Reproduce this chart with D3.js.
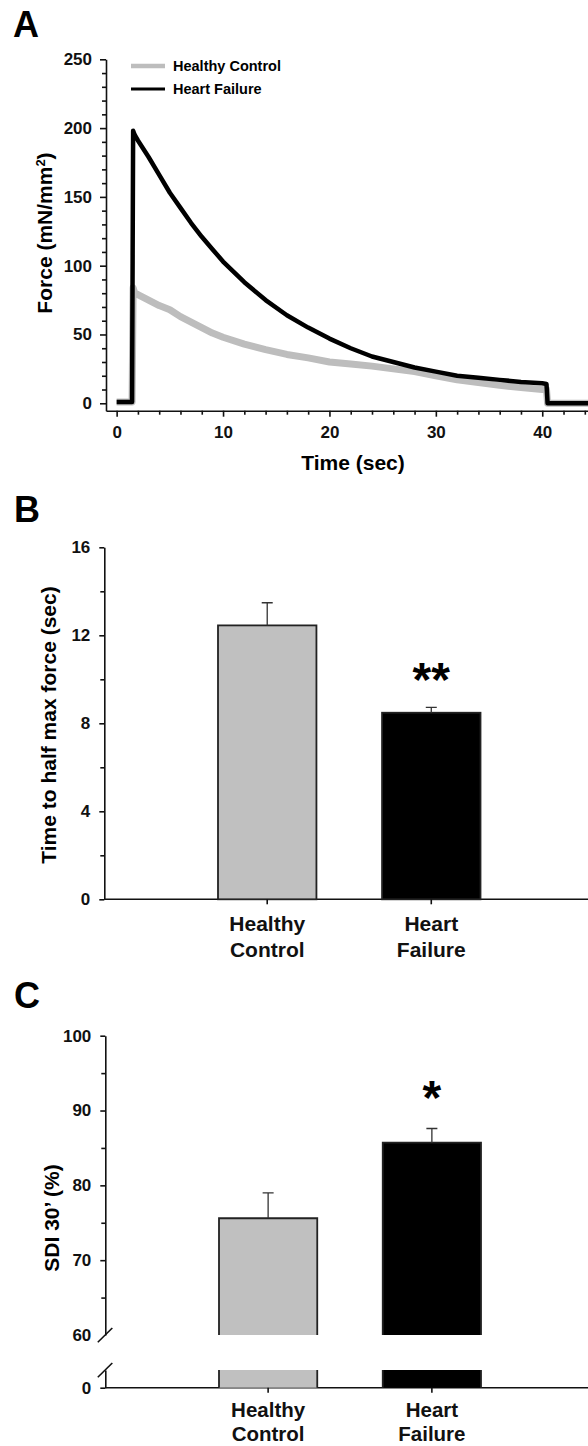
<!DOCTYPE html>
<html lang="en">
<head>
<meta charset="UTF-8">
<title>Force relaxation - Healthy Control vs Heart Failure</title>
<script src="https://d3js.org/d3.v7.min.js"></script>
<style>
  body { margin: 0; background: #fff; }
  svg { display: block; font-family: Arial, "Liberation Sans", sans-serif; font-weight: bold; }
  .tick text { font-size: 17px; font-weight: bold; fill: #111; font-family: Arial, "Liberation Sans", sans-serif; }
  .domain, .tick line { stroke: #111; stroke-width: 1.6px; }
</style>
</head>
<body>
<svg width="588" height="1446"></svg>
<script>
// ---- panel A: force traces ----
const timeSec = [0, 1.45, 1.55, 1.7, 2, 3, 4, 5, 6, 7, 8, 9, 10, 12, 14, 16, 18, 20, 22, 24, 26, 28, 30, 32, 34, 36, 38, 40, 40.4, 40.5, 44.3];
const forceHF = [1, 1, 198, 195, 191, 179, 166, 153, 142, 131, 121, 112, 103, 88, 75, 64, 55, 47, 40, 34, 30, 26, 23, 20, 18.5, 17, 15.5, 14.5, 14, 0, 0];
const forceHC = [1, 1, 84, 80, 79, 75, 71, 68, 63, 59, 55, 51, 48, 43, 39, 35.5, 33, 30, 28.5, 27, 25, 23, 20, 17, 15, 13, 11.5, 10, 10, 0, 0];
const legendNames = ["Healthy Control", "Heart Failure"];

// ---- panel B / C: group means with SEM ----
const groups = ["Healthy Control", "Heart Failure"];
const groupLines = [["Healthy", "Control"], ["Heart", "Failure"]];
const halfMax = [12.45, 8.48];
const halfMaxErr = [1.03, 0.24];
const sdi30 = [75.6, 85.7];
const sdi30Err = [3.4, 1.9];
const sigB = ["", "**"];
const sigC = ["", "*"];

const grey = "#c0c0c0";
const groupFill = [grey, "#000"];

let svg = d3.select("svg");

function panelLetter(txt, x, y) {
    svg.append("text").attr("x", x).attr("y", y)
        .attr("font-size", 36).attr("font-weight", "bold").text(txt);
}

function yTitle(txt, x, y) {
    return svg.append("text")
        .attr("transform", `translate(${x},${y}) rotate(-90)`)
        .attr("text-anchor", "middle")
        .attr("font-size", 21).attr("font-weight", "bold")
        .text(txt);
}

///////////////////// PANEL A /////////////////////
panelLetter("A", 13, 37);

const xA = d3.scaleLinear().domain([-1, 44.3]).range([106, 588]);
const yA = d3.scaleLinear().domain([-5.4, 250]).range([410.7, 59.3]);

// minor ticks first
svg.append("g").attr("transform", "translate(0,410.7)")
    .call(d3.axisBottom(xA).tickValues(d3.range(2, 45, 2).filter(d => d % 10)).tickSize(4).tickFormat(""))
    .call(g => g.select(".domain").remove());
svg.append("g").attr("transform", "translate(106,0)")
    .call(d3.axisLeft(yA).tickValues(d3.range(10, 250, 10).filter(d => d % 50)).tickSize(4).tickFormat(""))
    .call(g => g.select(".domain").remove());

svg.append("g").attr("transform", "translate(0,410.7)")
    .call(d3.axisBottom(xA).tickValues([0, 10, 20, 30, 40]).tickSize(6).tickSizeOuter(0).tickPadding(9));
svg.append("g").attr("transform", "translate(106,0)")
    .call(d3.axisLeft(yA).tickValues([0, 50, 100, 150, 200, 250]).tickSize(6).tickSizeOuter(0).tickPadding(8));

const lineA = d3.line().x(d => xA(d[0])).y(d => yA(d[1]));

svg.append("path")
    .datum(timeSec.map((t, i) => [t, forceHC[i]]))
    .attr("d", lineA)
    .attr("fill", "none").attr("stroke", "#bdbdbd")
    .attr("stroke-width", 7).attr("stroke-linejoin", "round");

svg.append("path")
    .datum(timeSec.map((t, i) => [t, forceHF[i]]))
    .attr("d", lineA)
    .attr("fill", "none").attr("stroke", "#000")
    .attr("stroke-width", 4.5).attr("stroke-linejoin", "round");

// legend
const leg = svg.append("g");
legendNames.forEach((n, i) => {
    let y = 66 + i * 23;
    leg.append("line").attr("x1", 131).attr("x2", 165).attr("y1", y).attr("y2", y)
        .attr("stroke", i ? "#000" : "#bdbdbd").attr("stroke-width", i ? 3 : 4.5);
    leg.append("text").attr("x", 173).attr("y", y + 5)
        .attr("font-size", 14.5).attr("font-weight", "bold").text(n);
});

const forceLbl = yTitle("Force (mN/mm", 52, 233);
forceLbl.append("tspan").attr("font-size", 13).attr("dy", -7).text("2");
forceLbl.append("tspan").attr("dy", 7).text(")");

svg.append("text").attr("x", 353).attr("y", 469.5).attr("text-anchor", "middle")
    .attr("font-size", 21).attr("font-weight", "bold").text("Time (sec)");

///////////////////// PANEL B /////////////////////
panelLetter("B", 14, 522);

const xB = d3.scaleBand().domain(groups).range([218, 480.5]).paddingInner(0.4);
const yB = d3.scaleLinear().domain([0, 16]).range([899.3, 547.3]);
const bw = xB.bandwidth();

svg.append("g").attr("transform", "translate(104.3,0)")
    .call(d3.axisLeft(yB).tickValues([2, 6, 10, 14]).tickSize(4).tickFormat(""))
    .call(g => g.select(".domain").remove());
svg.append("g").attr("transform", "translate(104.3,0)")
    .call(d3.axisLeft(yB).tickValues([0, 4, 8, 12, 16]).tickSize(5).tickSizeOuter(0).tickPadding(9));

svg.append("line").attr("x1", 104.3).attr("x2", 588).attr("y1", 899.3).attr("y2", 899.3)
    .attr("stroke", "#111").attr("stroke-width", 1.6);

svg.append("g").selectAll("rect").data(groups).join("rect")
    .attr("x", d => xB(d)).attr("width", bw)
    .attr("y", (d, i) => yB(halfMax[i]))
    .attr("height", (d, i) => yB(0) - yB(halfMax[i]))
    .attr("fill", (d, i) => groupFill[i])
    .attr("stroke", "#222").attr("stroke-width", 1.8);

function errBars(g, xs, vals, errs, ys) {
    g.selectAll("path").data(xs).join("path")
        .attr("d", (d, i) => {
            let cx = xs[i], y0 = ys(vals[i]), y1 = ys(vals[i] + errs[i]);
            return `M${cx},${y0}V${y1}M${cx - 5.5},${y1}H${cx + 5.5}`;
        })
        .attr("stroke", "#333").attr("stroke-width", 1.3).attr("fill", "none");
}
errBars(svg.append("g"), groups.map(d => xB(d) + bw / 2), halfMax, halfMaxErr, yB);

// category axis with two-line labels
function groupAxis(scale, y, off, gap, fs) {
    let g = svg.append("g").attr("transform", `translate(0,${y})`)
        .call(d3.axisBottom(scale).tickSize(5).tickSizeOuter(0).tickFormat(""))
        .call(g => g.select(".domain").remove());
    g.selectAll(".tick").each(function (d, i) {
        let t = d3.select(this).append("text")
            .attr("class", "cat")
            .attr("text-anchor", "middle")
            .style("font-size", fs + "px").style("font-weight", "bold").style("fill", "#111");
        groupLines[i].forEach((s, k) => t.append("tspan").attr("x", 0).attr("y", off + k * gap).text(s));
    });
}
groupAxis(xB, 899.3, 31.5, 26, 21);

svg.append("g").selectAll("text").data(groups).join("text")
    .attr("x", d => xB(d) + bw / 2).attr("y", 695.5)
    .attr("text-anchor", "middle").attr("font-size", 48).attr("font-weight", "bold")
    .text((d, i) => sigB[i]);

///////////////////// PANEL C /////////////////////
panelLetter("C", 14, 1008);

const xC = d3.scaleBand().domain(groups).range([219, 481]).paddingInner(0.4);
const yUp = d3.scaleLinear().domain([60, 100]).range([1335, 1035.7]);
const yLow = d3.scaleLinear().domain([0, 2.36]).range([1387.7, 1370]);
const bwC = xC.bandwidth();
const axC = 105.3;

svg.append("g").attr("transform", `translate(${axC},0)`)
    .call(d3.axisLeft(yUp).tickValues([65, 75, 85, 95]).tickSize(4).tickFormat(""))
    .call(g => g.select(".domain").remove());
svg.append("g").attr("transform", `translate(${axC},0)`)
    .call(d3.axisLeft(yUp).tickValues([60, 70, 80, 90, 100]).tickSize(5).tickSizeOuter(0).tickPadding(9))
    .call(g => g.selectAll(".tick").filter(d => d === 60).select("line").remove());
svg.append("g").attr("transform", `translate(${axC},0)`)
    .call(d3.axisLeft(yLow).tickValues([0]).tickFormat(d3.format("d")).tickSize(5).tickSizeOuter(0).tickPadding(9));

// axis break marks
svg.append("g").selectAll("line").data([yUp(60), yLow.range()[1]]).join("line")
    .attr("x1", axC - 7.5).attr("x2", axC + 7).attr("y1", d => d + 7.3).attr("y2", d => d - 7)
    .attr("stroke", "#111").attr("stroke-width", 1.6);

svg.append("line").attr("x1", axC).attr("x2", 588).attr("y1", yLow(0)).attr("y2", yLow(0))
    .attr("stroke", "#111").attr("stroke-width", 1.6);

const barsC = svg.append("g");
groups.forEach((gname, i) => {
    let x = xC(gname);
    barsC.append("rect").attr("x", x).attr("width", bwC)
        .attr("y", yUp(sdi30[i])).attr("height", yUp(60) - yUp(sdi30[i]))
        .attr("fill", groupFill[i]);
    barsC.append("path")
        .attr("d", `M${x},${yUp(60)}V${yUp(sdi30[i])}H${x + bwC}V${yUp(60)}`)
        .attr("fill", "none").attr("stroke", "#222").attr("stroke-width", 1.8);
    barsC.append("rect").attr("x", x).attr("width", bwC)
        .attr("y", yLow.range()[1]).attr("height", yLow(0) - yLow.range()[1])
        .attr("fill", groupFill[i]);
    barsC.append("path")
        .attr("d", `M${x},${yLow.range()[1]}V${yLow(0)}M${x + bwC},${yLow.range()[1]}V${yLow(0)}`)
        .attr("fill", "none").attr("stroke", "#222").attr("stroke-width", 1.8);
});
errBars(svg.append("g"), groups.map(d => xC(d) + bwC / 2), sdi30, sdi30Err, yUp);

groupAxis(xC, yLow(0), 29, 24.5, 20.5);

svg.append("g").selectAll("text").data(groups).join("text")
    .attr("x", d => xC(d) + bwC / 2).attr("y", 1113.7)
    .attr("text-anchor", "middle").attr("font-size", 48).attr("font-weight", "bold")
    .text((d, i) => sigC[i]);

yTitle("Time to half max force (sec)", 56, 725);
yTitle("SDI 30\u2019 (%)", 59, 1218);
</script>
</body>
</html>
